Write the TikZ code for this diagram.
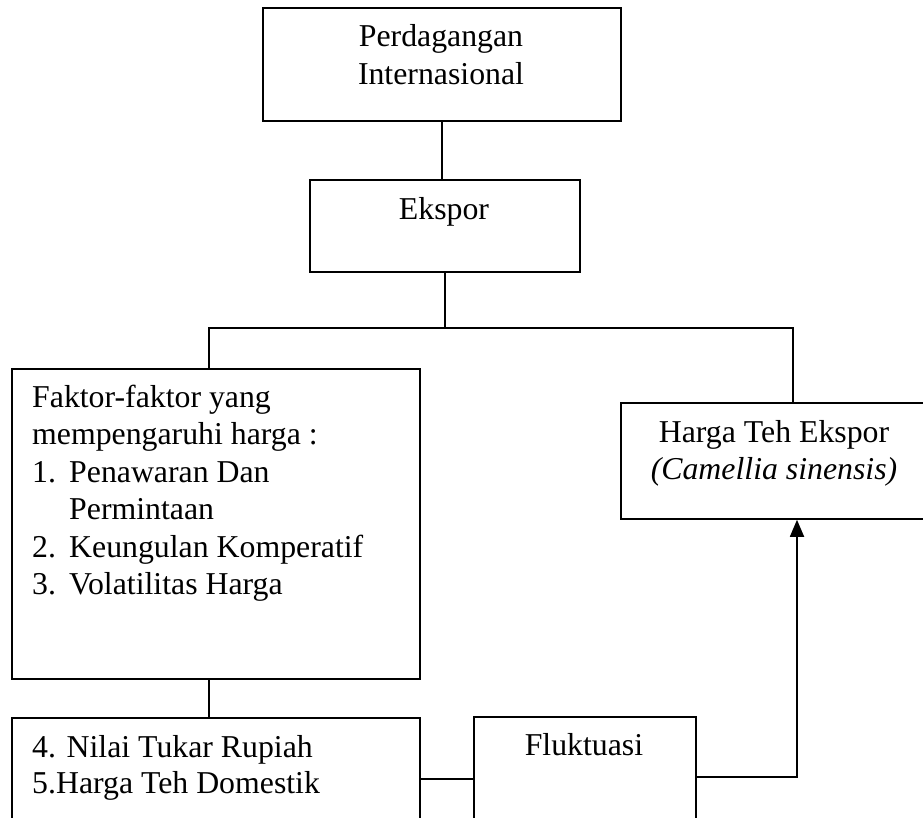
\documentclass[tikz,border=0pt]{standalone}
\usepackage{fontspec}
\setmainfont{Liberation Serif}
\usetikzlibrary{arrows.meta}
\begin{document}
\begin{tikzpicture}[x=1pt,y=-1pt,
  box/.style={draw, line width=1.8pt, rectangle, inner sep=0pt, anchor=north west},
  txt/.style={font=\fontsize{31.8}{37.5}\selectfont, inner sep=0pt},
  conn/.style={line width=1.8pt},
  arr/.style={line width=1.8pt, -{Triangle[length=17pt,width=14pt]}}]
\useasboundingbox (0,0) rectangle (923,818);

% boxes
\node[box, minimum width=358pt, minimum height=113pt] (top) at (262,7) {};
\node[box, minimum width=270pt, minimum height=92pt] (eks) at (309,179) {};
\node[box, minimum width=408pt, minimum height=310pt] (fak) at (11,368) {};
\node[box, minimum width=308pt, minimum height=116pt] (harga) at (620,402) {};
\node[box, minimum width=408pt, minimum height=140pt] (nil) at (11,717) {};
\node[box, minimum width=222pt, minimum height=140pt] (fluk) at (473,716) {};

% texts
\node[txt, anchor=base] (t1) at (441,47) {Perdagangan};
\node[txt, anchor=base] (t2) at (441,85) {Internasional};
\node[txt, anchor=base] (t3) at (444,220) {Ekspor};

\node[txt, anchor=base west] (f1) at (32,407) {Faktor-faktor yang};
\node[txt, anchor=base west] (f2) at (32,444.5) {mempengaruhi harga :};
\node[txt, anchor=base west] (f3n) at (32,482) {1.};
\node[txt, anchor=base west] (f3) at (69,482) {Penawaran Dan};
\node[txt, anchor=base west] (f4) at (69,519.5) {Permintaan};
\node[txt, anchor=base west] (f5n) at (32,557) {2.};
\node[txt, anchor=base west] (f5) at (69,557) {Keungulan Komperatif};
\node[txt, anchor=base west] (f6n) at (32,594.5) {3.};
\node[txt, anchor=base west] (f6) at (69,594.5) {Volatilitas Harga};

\node[txt, anchor=base] (h1) at (774,442) {Harga Teh Ekspor};
\node[txt, anchor=base] (h2) at (774,479) {\itshape(Camellia sinensis)};

\node[txt, anchor=base west] (n1) at (32,757) {4. Nilai Tukar Rupiah};
\node[txt, anchor=base west] (n2) at (32,793) {5.Harga Teh Domestik};

\node[txt, anchor=base] (fl) at (584,755) {Fluktuasi};

% connector points
\coordinate (jl) at (209,328);
\coordinate (jr) at (793,328);
\coordinate (je) at (445,328);
\coordinate (m) at (0,779);
\coordinate (ar) at (797,777);

% connectors
\draw[conn] (top.south) -- (top.south |- eks.north);
\draw[conn] (eks.south -| je) -- (je);
\draw[conn] (fak.north -| jl) -- (jl) -- (jr) -- (harga.north -| jr);
\draw[conn] (fak.south -| jl) -- (nil.north -| jl);
\draw[conn] (nil.east |- m) -- (fluk.west |- m);
\draw[arr] (fluk.east |- ar) -- (ar) -- (harga.south -| ar);
\end{tikzpicture}
\end{document}
